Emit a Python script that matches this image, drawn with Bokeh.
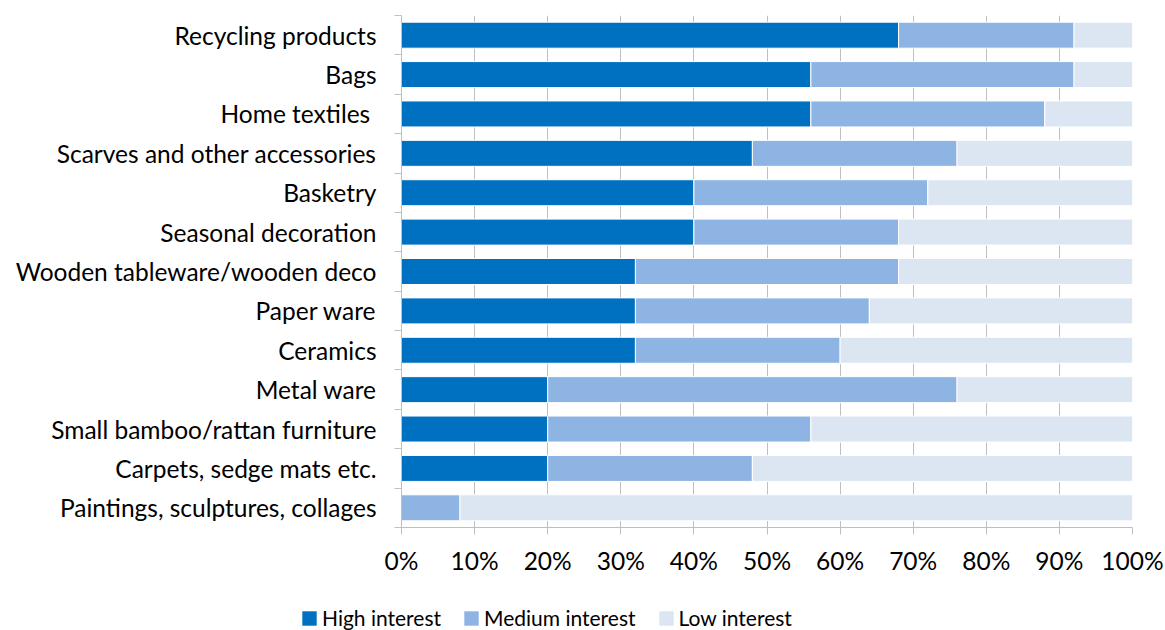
from bokeh.plotting import figure
from bokeh.models import (ColumnDataSource, Range1d, FixedTicker, PrintfTickFormatter,
                          Legend, LegendItem)
from bokeh.embed import file_html
from bokeh.resources import INLINE

categories = [
    "Recycling products",
    "Bags",
    "Home textiles ",
    "Scarves and other accessories",
    "Basketry",
    "Seasonal decoration",
    "Wooden tableware/wooden deco",
    "Paper ware",
    "Ceramics",
    "Metal ware",
    "Small bamboo/rattan furniture",
    "Carpets, sedge mats etc.",
    "Paintings, sculptures, collages",
]
high = [68, 56, 56, 48, 40, 40, 32, 32, 32, 20, 20, 20, 0]
medium = [24, 36, 32, 28, 32, 28, 36, 32, 28, 56, 36, 28, 8]
low = [8, 8, 12, 24, 28, 32, 32, 36, 40, 24, 44, 52, 92]
series_keys = ["high", "medium", "low"]
series_names = ["High interest", "Medium interest", "Low interest"]
series_colors = ["#0070C0", "#8DB4E2", "#DCE6F2"]
x_ticks = [0, 10, 20, 30, 40, 50, 60, 70, 80, 90, 100]

FONT = "Lato"
FS = "24.5px"
LEGEND_FS = "21px"
GRID = "#BFBFBF"

n = len(categories)
pos = list(range(n))
source = ColumnDataSource(dict(y=pos, high=high, medium=medium, low=low))

p = figure(width=1165, height=588, output_backend="svg", toolbar_location=None,
           x_range=Range1d(0, 100), y_range=Range1d(n - 0.5, -0.5),
           min_border_left=401, min_border_right=33, min_border_top=15,
           min_border_bottom=61)
p.outline_line_color = None

p.hbar_stack(series_keys, y="y", height=0.66, color=series_colors,
             line_color="white", line_width=1, source=source)

# x axis
p.xaxis.ticker = FixedTicker(ticks=x_ticks)
p.xaxis.formatter = PrintfTickFormatter(format="%d%%")
p.xaxis.axis_line_color = GRID
p.xaxis.major_tick_line_color = GRID
p.xaxis.major_tick_out = 7
p.xaxis.major_tick_in = 0
p.xaxis.minor_tick_line_color = None
p.xaxis.major_label_text_font = FONT
p.xaxis.major_label_text_font_size = FS
p.xaxis.major_label_text_color = "black"
p.xaxis.major_label_standoff = 11

# y axis: labels at category centres, tick marks at category boundaries
p.yaxis.ticker = FixedTicker(ticks=pos, minor_ticks=[i - 0.5 for i in range(n + 1)])
p.yaxis.major_label_overrides = {i: c for i, c in enumerate(categories)}
p.yaxis.axis_line_color = GRID
p.yaxis.major_tick_line_color = None
p.yaxis.major_tick_out = 0
p.yaxis.major_tick_in = 0
p.yaxis.minor_tick_line_color = GRID
p.yaxis.minor_tick_out = 7
p.yaxis.minor_tick_in = 0
p.yaxis.major_label_text_font = FONT
p.yaxis.major_label_text_font_size = FS
p.yaxis.major_label_text_color = "black"
p.yaxis.major_label_standoff = 18

p.xgrid.ticker = FixedTicker(ticks=x_ticks)
p.xgrid.grid_line_color = GRID
p.ygrid.grid_line_color = None

# legend strip below the chart (a separate root so its frame spans the full width)
lg = figure(width=1165, height=42, output_backend="svg", toolbar_location=None,
            x_axis_type=None, y_axis_type=None, x_range=Range1d(0, 100), y_range=Range1d(n - 0.5, -0.5),
            min_border_left=0, min_border_right=0, min_border_top=0, min_border_bottom=0)
lg.outline_line_color = None
lg.xgrid.grid_line_color = None
lg.ygrid.grid_line_color = None
swatches = lg.hbar_stack(series_keys, y="y", height=0.66, color=series_colors,
                         line_color=None, source=source, visible=False)

legend = Legend(items=[LegendItem(label=nm, renderers=[r]) for nm, r in zip(series_names, swatches)],
                orientation="horizontal", location=(300, 0))
legend.glyph_width = 18
legend.glyph_height = 18
legend.label_standoff = 4
legend.spacing = 21
legend.padding = 0
legend.margin = 0
legend.border_line_color = None
legend.background_fill_alpha = 0
legend.inactive_fill_alpha = 0
legend.label_text_font = FONT
legend.label_text_font_size = LEGEND_FS
legend.label_text_color = "black"
lg.add_layout(legend)

open("out.html", "w").write(file_html([p, lg], INLINE))
